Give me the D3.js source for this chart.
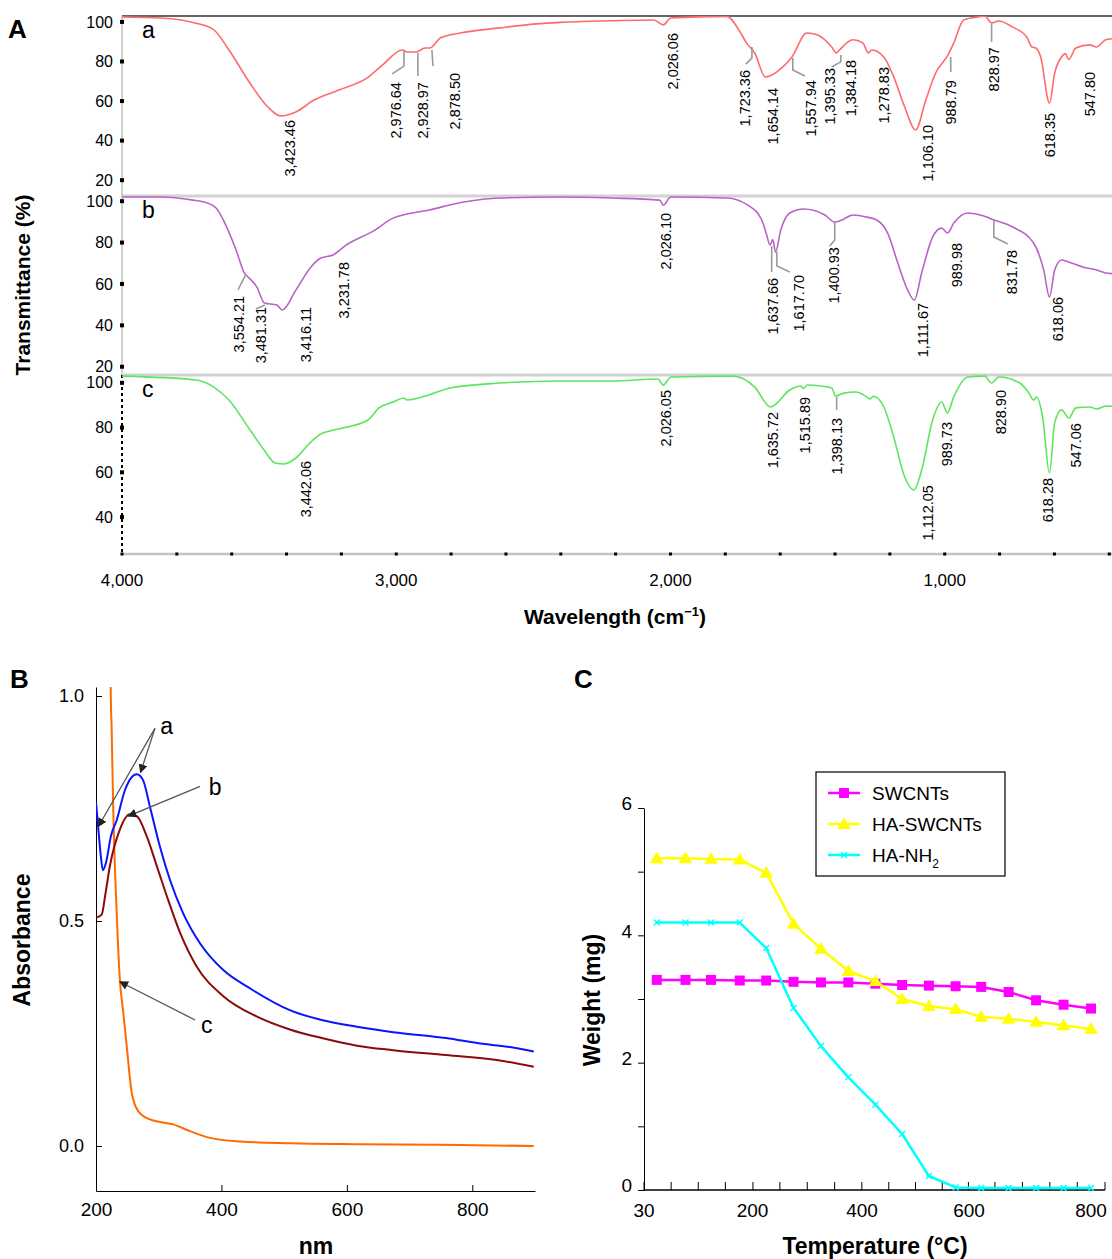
<!DOCTYPE html>
<html>
<head>
<meta charset="utf-8">
<script src="https://cdn.jsdelivr.net/npm/d3@7"></script>
<style>
  body { margin: 0; background: #fff; }
  svg { display: block; font-family: 'Liberation Sans', Arial, sans-serif; }
</style>
</head>
<body>
<svg id="chart" width="1112" height="1259"></svg>
<script>
// ---------- Panel A: FTIR spectra, [wavenumber cm-1, transmittance %]
const ftirA = [[4000, 102.5], [3858, 102], [3734, 99.5], [3665, 96], [3610, 85.8], [3533, 69], [3468, 57], [3423, 52.5],
  [3366, 54.5], [3300, 60.5], [3209, 65.6], [3103, 72], [3052, 78], [2977, 85.8], [2961, 84.8], [2928, 84.8], [2895, 86.8],
  [2878, 86.8], [2838, 92], [2767, 94.4], [2622, 97], [2491, 99], [2403, 99.8], [2214, 100.6], [2061, 101], [2026, 98.5],
  [1999, 102], [1795, 102.8], [1744, 94.4], [1723, 89.4], [1693, 84.3], [1654, 72.2], [1591, 77.2], [1557, 82.3],
  [1503, 94.4], [1463, 93.4], [1412, 87.3], [1395, 84.3], [1384, 85.8], [1335, 91], [1299, 89.4], [1278, 84.3],
  [1266, 85.8], [1222, 82.3], [1186, 72.2], [1146, 57], [1106, 45.4], [1069, 60.5], [1033, 74.2], [988, 83.3],
  [967, 89.4], [931, 101], [880, 102.5], [854, 103], [829, 99.5], [803, 100.5], [752, 97.4], [701, 92.4], [682, 87.3],
  [668, 86.8], [650, 82.3], [618, 59], [599, 74.2], [574, 82.3], [560, 84], [548, 81], [522, 86.8], [471, 88.4],
  [446, 87.3], [413, 91], [390, 91.5]];

const ftirB = [[4000, 102], [3858, 102], [3741, 100.5], [3701, 99.6], [3657, 96.7], [3625, 89.4], [3584, 76.4],
  [3554, 65.3], [3533, 62.4], [3508, 58.5], [3481, 50.8], [3435, 49.8], [3416, 47.4], [3366, 57], [3311, 68.2],
  [3275, 72.5], [3231, 74], [3183, 78.8], [3078, 86], [3012, 91.8], [2881, 95.7], [2753, 99.6], [2622, 101.5],
  [2403, 102], [2214, 101.5], [2040, 100.5], [2026, 98.1], [1999, 102], [1795, 101.5], [1718, 98.1], [1667, 90.9],
  [1650, 84], [1637, 78.8], [1627, 81.5], [1617, 75.4], [1598, 86], [1565, 94.3], [1514, 96.2], [1437, 93.3],
  [1401, 89.9], [1375, 90.9], [1335, 93.3], [1284, 92.3], [1248, 90.9], [1208, 84.6], [1171, 70.1], [1135, 57],
  [1111, 52.2], [1084, 65.3], [1044, 82.7], [1011, 87], [990, 84.6], [967, 89.4], [916, 94.3], [860, 93], [832, 91.5],
  [752, 87.5], [676, 79.8], [639, 66.7], [618, 53.7], [599, 66.7], [574, 71.6], [548, 70.6], [497, 68.2], [446, 66.7],
  [413, 65.3], [390, 65]];

const ftirC = [[4000, 103], [3730, 101.3], [3665, 98.1], [3610, 92.3], [3533, 78.9], [3482, 70], [3442, 64.2],
  [3410, 63.7], [3366, 66.4], [3311, 73.6], [3275, 77.1], [3194, 79.8], [3103, 83.4], [3063, 88.8], [3012, 91.4],
  [2972, 93.2], [2961, 92.3], [2881, 94.6], [2804, 97.7], [2622, 99.9], [2403, 100.8], [2214, 100.8], [2046, 101.7],
  [2026, 99], [1999, 102.6], [1769, 103], [1693, 98.1], [1635, 89.2], [1565, 96.8], [1525, 98.6], [1516, 97.5],
  [1500, 99], [1452, 98.6], [1412, 97.7], [1398, 94.1], [1368, 95.4], [1324, 95.9], [1284, 93.7], [1273, 92.8],
  [1260, 94], [1222, 89.2], [1186, 75.8], [1146, 57.9], [1112, 52.1], [1084, 61], [1044, 83.4], [1011, 91.4],
  [990, 86.5], [967, 93.7], [916, 102.6], [854, 103], [829, 99.9], [803, 102.6], [726, 99.9], [693, 95.4], [676, 92.3],
  [665, 93.7], [643, 84.7], [618, 59.7], [599, 82.1], [574, 87.9], [547, 84.3], [522, 88.8], [471, 89.2], [446, 88.3],
  [413, 89.6], [390, 89.5]];

// peak labels: [text, wavenumber at label, transmittance at label top]
const peaksA = [['3,423.46', 3388, 50.4], ['2,976.64', 3001, 69.6], ['2,928.97', 2903, 69.6], ['2,878.50', 2786, 74.2],
  ['2,026.06', 1991, 94.4], ['1,723.36', 1729, 75.7], ['1,654.14', 1627, 66.6], ['1,557.94', 1488, 70.6],
  ['1,395.33', 1419, 76.7], ['1,384.18', 1343, 80.8], ['1,278.83', 1222, 77.2], ['1,106.10', 1062, 47.9],
  ['988.79', 978, 70.6], ['828.97', 821, 87.3], ['618.35', 617, 54], ['547.80', 471, 74.7]];
const peaksB = [['3,554.21', 3574, 54.2], ['3,481.31', 3493, 48.9], ['3,416.11', 3329, 48.9], ['3,231.78', 3191, 70.6],
  ['2,026.10', 2017, 94.3], ['1,637.66', 1627, 62.9], ['1,617.70', 1532, 64.3], ['1,400.93', 1405, 77.8],
  ['1,111.67', 1080, 50.8], ['989.98', 956, 79.8], ['831.78', 756, 76.4], ['618.06', 588, 53.7]];
const peaksC = [['3,442.06', 3329, 65.1], ['2,026.05', 2017, 96.8], ['1,635.72', 1627, 87], ['1,515.89', 1510, 93.7],
  ['1,398.13', 1394, 84.3], ['1,112.05', 1062, 54.3], ['989.73', 993, 82.5], ['828.90', 796, 96.8],
  ['618.28', 624, 57.5], ['547.06', 522, 82]];

// gray leader lines, polylines of [wavenumber, transmittance]
const leadersA = [[[2972, 85.3], [2972, 77.7], [3015, 73.7]], [[2921, 84.3], [2921, 72.7]], [[2870, 85.8], [2866, 77.7]],
  [[1703, 87.3], [1703, 81.8], [1725, 78.7]], [[1554, 81.8], [1554, 75.7], [1510, 72.7]],
  [[1379, 83.3], [1379, 79.8], [1412, 77.2]], [[978, 82.3], [978, 74.7]], [[829, 99], [829, 89.9]]];
const leadersB = [[[3548, 64.8], [3577, 57.1]], [[3479, 49.8], [3512, 47.9]], [[1631, 78.3], [1631, 65.8]],
  [[1612, 75.4], [1612, 68.7], [1565, 65.8]], [[1401, 89.9], [1401, 81.2], [1419, 78.3]],
  [[821, 90.9], [821, 82.7], [770, 79.3]]];
const leadersC = [[[1394, 93.7], [1394, 87.9]]];

const ticksTopA = [20, 40, 60, 80, 100];
const ticksBottomA = [40, 60, 80, 100];
const xLabelsA = [4000, 3000, 2000, 1000];

// ---------- Panel B: UV-vis, [nm, absorbance]
const uvA = [[200, 0.764], [204, 0.70], [208, 0.64], [211, 0.613], [216, 0.63], [224, 0.69], [233, 0.724], [246, 0.79],
  [256, 0.818], [265, 0.826], [275, 0.813], [286, 0.754], [302, 0.665], [318, 0.591], [339, 0.517], [366, 0.45],
  [403, 0.391], [446, 0.35], [509, 0.302], [560, 0.28], [616, 0.265], [674, 0.253], [758, 0.24], [816, 0.227],
  [860, 0.22], [898, 0.21]];
const uvB = [[200, 0.507], [209, 0.514], [215, 0.56], [222, 0.621], [238, 0.703], [254, 0.737], [265, 0.733],
  [281, 0.688], [297, 0.622], [313, 0.555], [334, 0.474], [360, 0.40], [403, 0.333], [456, 0.288], [509, 0.259],
  [560, 0.24], [616, 0.223], [674, 0.213], [758, 0.202], [844, 0.19], [898, 0.176]];
const uvC = [[222.5, 1.3], [223.4, 1.02], [225, 0.925], [227.6, 0.74], [233, 0.519], [238, 0.37], [243.5, 0.297],
  [249, 0.222], [257, 0.118], [267.5, 0.077], [286, 0.059], [323, 0.048], [350, 0.033], [382, 0.018], [430, 0.01],
  [509, 0.006], [616, 0.004], [750, 0.003], [898, 0.0]];

// annotation arrows: [label, labelPos, tail, heads]
const uvNotes = [
  ['a', [312.7, 0.933], [294, 0.928], [[203.7, 0.71], [271, 0.83]]],
  ['b', [390, 0.799], [366, 0.799], [[251.5, 0.733]]],
  ['c', [376.5, 0.269], [358, 0.28], [[238, 0.365]]],
];
const xTicksB = [200, 400, 600, 800];
const yTicksB = [0, 0.5, 1.0];

// ---------- Panel C: TGA, weight (mg) vs temperature
const tempsC = [50, 95, 135, 180, 225, 275, 325, 375, 425, 475, 525, 575, 620, 665, 710, 755, 800];
const swcnts = [3.3, 3.3, 3.3, 3.29, 3.29, 3.27, 3.26, 3.26, 3.24, 3.22, 3.21, 3.2, 3.19, 3.11, 2.98, 2.91, 2.85];
const haSwcnts = [5.21, 5.21, 5.2, 5.19, 4.98, 4.18, 3.79, 3.44, 3.28, 3.0, 2.89, 2.84, 2.72, 2.69, 2.64, 2.585, 2.53];
const haNh2 = [4.2, 4.2, 4.2, 4.2, 3.8, 2.86, 2.26, 1.77, 1.34, 0.88, 0.22, 0.04, 0.03, 0.03, 0.03, 0.03, 0.03];
const xLabelsC = [30, 200, 400, 600, 800];

const svg = d3.select('#chart');
svg.append('rect').attr('width', 1112).attr('height', 1259).attr('fill', '#fff');

// ======================= Panel A =======================
const xA = d3.scaleLinear().domain([4000, 390]).range([122, 1112]);
const panelsA = [
  { name: 'a', data: ftirA, peaks: peaksA, leaders: leadersA, color: '#ff6a6a', domain: [12, 103], top: 16, bottom: 196, ticks: ticksTopA },
  { name: 'b', data: ftirB, peaks: peaksB, leaders: leadersB, color: '#b863c6', domain: [16, 102.5], top: 196, bottom: 375, ticks: ticksTopA },
  { name: 'c', data: ftirC, peaks: peaksC, leaders: leadersC, color: '#5ce65c', domain: [23.5, 103.5], top: 375, bottom: 554, ticks: ticksBottomA },
];

const gA = svg.append('g').attr('class', 'panel-a');

// frame lines
gA.append('line').attr('x1', 122).attr('x2', 1112).attr('y1', 16).attr('y2', 16)
  .attr('stroke', '#333').attr('stroke-width', 1.5);
[196, 375].forEach(y => {
  gA.append('line').attr('x1', 122).attr('x2', 1112).attr('y1', y).attr('y2', y)
    .attr('stroke', '#d2d2d2').attr('stroke-width', 3);
});
gA.append('line').attr('x1', 122).attr('x2', 122).attr('y1', 16).attr('y2', 375)
  .attr('stroke', '#cfcfcf').attr('stroke-width', 2);
gA.append('line').attr('x1', 122).attr('x2', 122).attr('y1', 375).attr('y2', 554)
  .attr('stroke', '#000').attr('stroke-width', 2).attr('stroke-dasharray', '3,3');

panelsA.forEach((p, i) => {
  const y = d3.scaleLinear().domain(p.domain).range([p.bottom, p.top]);
  const clipId = `clipA${i}`;
  gA.append('clipPath').attr('id', clipId)
    .append('rect').attr('x', 122).attr('y', p.top).attr('width', 990).attr('height', p.bottom - p.top);

  // y ticks: black dots + labels
  gA.selectAll(`.ytick-${p.name}`)
    .data(p.ticks)
    .enter()
    .append('rect')
    .attr('x', 120).attr('y', d => y(d) - 2)
    .attr('width', 4).attr('height', 4)
    .attr('fill', '#000');
  gA.selectAll(`.ylab-${p.name}`)
    .data(p.ticks)
    .enter()
    .append('text')
    .attr('x', 113).attr('y', d => y(d))
    .attr('dy', '0.35em')
    .attr('text-anchor', 'end')
    .attr('font-size', 16)
    .text(d => d);

  // spectrum
  const line = d3.line().x(d => xA(d[0])).y(d => y(d[1])).curve(d3.curveMonotoneX);
  const straight = d3.line().x(d => xA(d[0])).y(d => y(d[1]));
  gA.append('path')
    .datum(p.data)
    .attr('clip-path', `url(#${clipId})`)
    .attr('d', line)
    .attr('fill', 'none')
    .attr('stroke', p.color)
    .attr('stroke-width', 1.6)
    .attr('stroke-linejoin', 'round');

  // leaders
  gA.selectAll(`.leader-${p.name}`)
    .data(p.leaders)
    .enter()
    .append('path')
    .attr('d', straight)
    .attr('fill', 'none')
    .attr('stroke', '#9a9a9a')
    .attr('stroke-width', 1.6);

  // peak labels
  gA.selectAll(`.peak-${p.name}`)
    .data(p.peaks)
    .enter()
    .append('text')
    .attr('transform', d => `translate(${xA(d[1])},${y(d[2])}) rotate(-90)`)
    .attr('dy', '0.35em')
    .attr('text-anchor', 'end')
    .attr('font-size', 14.5)
    .text(d => d[0]);

  // sub panel letter
  gA.append('text')
    .attr('x', 142).attr('y', p.top + 22)
    .attr('font-size', 23)
    .text(p.name);
});

// bottom axis of panel A
gA.append('line').attr('x1', 122).attr('x2', 1112).attr('y1', 554).attr('y2', 554)
  .attr('stroke', '#c4c4c4').attr('stroke-width', 2.5);
gA.selectAll('.xdot')
  .data(d3.range(4000, 390, -200))
  .enter()
  .append('rect')
  .attr('x', d => xA(d) - 1.5).attr('y', 552.5)
  .attr('width', 3).attr('height', 3)
  .attr('fill', '#000');
gA.selectAll('.xlab')
  .data(xLabelsA)
  .enter()
  .append('text')
  .attr('x', d => xA(d)).attr('y', 586)
  .attr('text-anchor', 'middle')
  .attr('font-size', 17)
  .text(d3.format(','));

gA.append('text')
  .attr('transform', 'translate(30,285) rotate(-90)')
  .attr('text-anchor', 'middle')
  .attr('font-size', 21).attr('font-weight', 'bold')
  .text('Transmittance (%)');
const wl = gA.append('text')
  .attr('x', 615).attr('y', 624)
  .attr('text-anchor', 'middle')
  .attr('font-size', 21).attr('font-weight', 'bold');
wl.append('tspan').text('Wavelength (cm');
wl.append('tspan').attr('font-size', 13).attr('dy', -8).text('\u22121');
wl.append('tspan').attr('dy', 8).text(')');

svg.append('text').attr('x', 8).attr('y', 38)
  .attr('font-size', 26).attr('font-weight', 'bold').text('A');

// ======================= Panel B =======================
const xB = d3.scaleLinear().domain([200, 900]).range([96, 535]);
const yB = d3.scaleLinear().domain([-0.1, 1.02]).range([1191, 687]);
const gB = svg.append('g').attr('class', 'panel-b');

gB.append('clipPath').attr('id', 'clipB')
  .append('rect').attr('x', 96).attr('y', 687).attr('width', 440).attr('height', 504);

gB.append('g')
  .attr('transform', 'translate(0,1191)')
  .call(d3.axisBottom(xB).tickValues(xTicksB).tickSize(-6).tickSizeOuter(0).tickPadding(12))
  .call(g => g.selectAll('text').attr('font-size', 19).attr('font-family', null).attr('fill', '#000'));
gB.append('g')
  .attr('transform', 'translate(96,0)')
  .call(d3.axisLeft(yB).tickValues(yTicksB).tickFormat(d3.format('.1f')).tickSize(-6).tickSizeOuter(0).tickPadding(12))
  .call(g => g.selectAll('text').attr('font-size', 18).attr('font-family', null).attr('fill', '#000'));

const lineB = d3.line().x(d => xB(d[0])).y(d => yB(d[1])).curve(d3.curveMonotoneX);
[[uvC, '#ff6a00'], [uvB, '#8b0a0a'], [uvA, '#0a14ff']].forEach(([data, color]) => {
  gB.append('path')
    .datum(data)
    .attr('clip-path', 'url(#clipB)')
    .attr('d', lineB)
    .attr('fill', 'none')
    .attr('stroke', color)
    .attr('stroke-width', 2)
    .attr('stroke-linejoin', 'round');
});

svg.append('defs').append('marker')
  .attr('id', 'arrowhead')
  .attr('viewBox', '0 0 10 10')
  .attr('refX', 9).attr('refY', 5)
  .attr('markerWidth', 7).attr('markerHeight', 7)
  .attr('orient', 'auto-start-reverse')
  .append('path').attr('d', 'M0,0 L10,5 L0,10 z').attr('fill', '#222');

uvNotes.forEach(([label, pos, tail, heads]) => {
  heads.forEach(h => {
    gB.append('line')
      .attr('x1', xB(tail[0])).attr('y1', yB(tail[1]))
      .attr('x2', xB(h[0])).attr('y2', yB(h[1]))
      .attr('stroke', '#555').attr('stroke-width', 1.3)
      .attr('marker-end', 'url(#arrowhead)');
  });
  gB.append('text')
    .attr('x', xB(pos[0])).attr('y', yB(pos[1]))
    .attr('dy', '0.35em')
    .attr('text-anchor', 'middle')
    .attr('font-size', 23)
    .text(label);
});

gB.append('text')
  .attr('transform', 'translate(30,940) rotate(-90)')
  .attr('text-anchor', 'middle')
  .attr('font-size', 23).attr('font-weight', 'bold')
  .text('Absorbance');
gB.append('text')
  .attr('x', 316).attr('y', 1254)
  .attr('text-anchor', 'middle')
  .attr('font-size', 23).attr('font-weight', 'bold')
  .text('nm');
svg.append('text').attr('x', 10).attr('y', 688)
  .attr('font-size', 26).attr('font-weight', 'bold').text('B');

// ======================= Panel C =======================
const xC = d3.scaleLinear().domain([30, 200, 400, 600, 800]).range([644, 752.5, 862, 969, 1091]);
const yC = d3.scaleLinear().domain([0, 6]).range([1190, 808]);
const gC = svg.append('g').attr('class', 'panel-c');

gC.append('g')
  .attr('transform', 'translate(644,0)')
  .call(d3.axisLeft(yC).tickValues(d3.range(0, 7)).tickFormat(d => (d % 2 === 0 ? d : ''))
    .tickSize(6).tickSizeOuter(0).tickPadding(6))
  .call(g => g.selectAll('text').attr('font-size', 19).attr('font-family', null).attr('fill', '#000').attr('dy', '0.1em'));

// x axis: line, category ticks, labels
gC.append('line').attr('x1', 644).attr('x2', 1105).attr('y1', 1190).attr('y2', 1190)
  .attr('stroke', '#000').attr('stroke-width', 1.5);
const px = tempsC.map(t => xC(t));
const bounds = [644].concat(px.slice(1).map((v, i) => (v + px[i]) / 2), [1105]);
gC.selectAll('.ctick')
  .data(bounds)
  .enter()
  .append('line')
  .attr('x1', d => d).attr('x2', d => d)
  .attr('y1', 1190).attr('y2', 1182)
  .attr('stroke', '#000').attr('stroke-width', 1);
gC.selectAll('.clab')
  .data(xLabelsC)
  .enter()
  .append('text')
  .attr('x', d => xC(d)).attr('y', 1217)
  .attr('text-anchor', 'middle')
  .attr('font-size', 19)
  .text(d => d);

const seriesC = [
  { name: 'SWCNTs', values: swcnts, color: '#ff00ff', shape: 'square' },
  { name: 'HA-SWCNTs', values: haSwcnts, color: '#ffff00', shape: 'triangle' },
  { name: 'HA-NH2', values: haNh2, color: '#00ffff', shape: 'x' },
];

function drawMarker(g, shape, color, x, y) {
  if (shape === 'square') {
    g.append('rect').attr('x', x - 5).attr('y', y - 5).attr('width', 10).attr('height', 10).attr('fill', color);
  } else if (shape === 'triangle') {
    g.append('path').attr('d', d3.symbol(d3.symbolTriangle, 80)()).attr('transform', `translate(${x},${y + 1})`).attr('fill', color);
  } else {
    g.append('path').attr('d', `M${x - 3},${y - 3}L${x + 3},${y + 3}M${x - 3},${y + 3}L${x + 3},${y - 3}`)
      .attr('stroke', color).attr('stroke-width', 1.4);
  }
}

const lineC = d3.line().x((d, i) => xC(tempsC[i])).y(d => yC(d));
seriesC.forEach(s => {
  gC.append('path')
    .datum(s.values)
    .attr('d', lineC)
    .attr('fill', 'none')
    .attr('stroke', s.color)
    .attr('stroke-width', 2.5)
    .attr('stroke-linejoin', 'round');
  s.values.forEach((v, i) => drawMarker(gC, s.shape, s.color, xC(tempsC[i]), yC(v)));
});

// legend
const legend = gC.append('g').attr('class', 'legend');
legend.append('rect').attr('x', 816).attr('y', 772).attr('width', 189).attr('height', 104)
  .attr('fill', '#fff').attr('stroke', '#000').attr('stroke-width', 1.2);
seriesC.forEach((s, i) => {
  const ly = 793 + i * 31;
  legend.append('line').attr('x1', 828).attr('x2', 860).attr('y1', ly).attr('y2', ly)
    .attr('stroke', s.color).attr('stroke-width', 2.5);
  drawMarker(legend, s.shape, s.color, 844, ly);
  const t = legend.append('text').attr('x', 872).attr('y', ly).attr('dy', '0.35em').attr('font-size', 19);
  if (s.name === 'HA-NH2') {
    t.append('tspan').text('HA-NH');
    t.append('tspan').attr('font-size', 12).attr('dy', 6).text('2');
  } else {
    t.text(s.name);
  }
});

gC.append('text')
  .attr('transform', 'translate(600,1000) rotate(-90)')
  .attr('text-anchor', 'middle')
  .attr('font-size', 23).attr('font-weight', 'bold')
  .text('Weight (mg)');
gC.append('text')
  .attr('x', 875).attr('y', 1254)
  .attr('text-anchor', 'middle')
  .attr('font-size', 23).attr('font-weight', 'bold')
  .text('Temperature (°C)');
svg.append('text').attr('x', 574).attr('y', 688)
  .attr('font-size', 26).attr('font-weight', 'bold').text('C');
</script>
</body>
</html>
